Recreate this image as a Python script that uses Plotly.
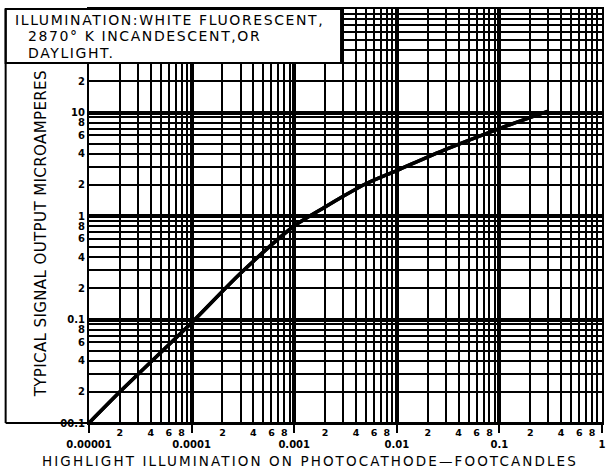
import plotly.graph_objects as go

# ---- data ----
illum_fc = [1e-5, 2e-5, 5e-5, 1e-4, 3e-4, 1e-3, 2e-3, 3e-3, 5e-3, 1e-2, 3e-2, 1e-1, 3e-1]
signal_ua = [0.01, 0.02, 0.048, 0.093, 0.28, 0.80, 1.22, 1.55, 2.05, 2.75, 4.4, 7.0, 10.3]

x_decades = [1e-5, 1e-4, 1e-3, 1e-2, 1e-1, 1]
x_decade_labels = ["0.00001", "0.0001", "0.001", "0.01", "0.1", "1"]
x_minor_mults = [2, 3, 4, 5, 6, 7, 8, 9]
x_minor_labels = ["2", "", "4", "", "6", "", "8", ""]

y_decades = [0.01, 0.1, 1, 10, 100]
y_decade_labels = ["00.1", "0.1", "1", "10", ""]
y_minor_labels = ["2", "", "4", "", "6", "", "8", ""]

box_lines = ["ILLUMINATION:WHITE FLUORESCENT,",
             "2870° K INCANDESCENT,OR",
             "DAYLIGHT."]
x_title = "HIGHLIGHT ILLUMINATION ON PHOTOCATHODE—FOOTCANDLES"
y_title = "TYPICAL SIGNAL OUTPUT MICROAMPERES"

FONT = "DejaVu Sans"

# ---- build tick arrays ----
xt_vals, xt_text = [], []
for d in x_decades[:-1]:
    for m, lab in zip(x_minor_mults, x_minor_labels):
        xt_vals.append(m * d)
        xt_text.append(lab)

yt_vals, yt_text = [], []
for d, dlab in zip(y_decades[:-1], y_decade_labels[:-1]):
    yt_vals.append(d)
    yt_text.append(dlab)
    for m, lab in zip(x_minor_mults, y_minor_labels):
        yt_vals.append(m * d)
        # above 20 the labels sit under the title box
        yt_text.append(lab if m * d <= 20 else "")

fig = go.Figure()
fig.add_trace(go.Scatter(x=illum_fc, y=signal_ua, mode="lines",
                         line=dict(color="black", width=3.5, shape="spline", smoothing=0.7),
                         hoverinfo="skip", showlegend=False))
fig.add_trace(go.Scatter(x=illum_fc, y=signal_ua, mode="lines",
                         line=dict(color="black", width=3.5, shape="spline", smoothing=0.7),
                         xaxis="x2", yaxis="y2",
                         hoverinfo="skip", showlegend=False))

fig.update_layout(
    width=608, height=468, autosize=False,
    margin=dict(l=89, r=2, t=9, b=45),
    paper_bgcolor="white", plot_bgcolor="white",
    font=dict(family=FONT, color="black"),
    xaxis=dict(type="log", range=[-5, 0], tickvals=xt_vals, ticktext=xt_text,
               ticks="", showgrid=True, gridcolor="black", gridwidth=2,
               showline=True, linecolor="black", linewidth=2, mirror=True,
               zeroline=False,
               tickfont=dict(family=FONT, size=9.5, color="black", weight="bold")),
    xaxis2=dict(type="log", range=[-5, 0], overlaying="x", anchor="y", side="bottom",
                tickvals=x_decades, ticktext=x_decade_labels,
                ticks="outside", ticklen=9, tickwidth=2, tickcolor="black",
                showgrid=True, gridcolor="black", gridwidth=4,
                showline=False, zeroline=False,
                tickfont=dict(family=FONT, size=10, color="black", weight="bold"),
                ticklabelstandoff=3),
    yaxis=dict(type="log", range=[-2, 2], tickvals=yt_vals, ticktext=yt_text,
               ticks="", showgrid=True, gridcolor="black", gridwidth=2,
               showline=True, linecolor="black", linewidth=2, mirror=True,
               zeroline=False,
               tickfont=dict(family=FONT, size=10, color="black", weight="bold")),
    yaxis2=dict(type="log", range=[-2, 2], overlaying="y", anchor="x", side="left",
                tickvals=y_decades, showticklabels=False, ticks="",
                showgrid=True, gridcolor="black", gridwidth=4,
                showline=False, zeroline=False),
)

# title box in the upper left
fig.add_shape(type="rect", xref="paper", yref="paper", x0=-0.1625, x1=0.4913,
              y0=0.8696, y1=1.0, fillcolor="white",
              line=dict(color="black", width=2), layer="above")
box_pos = [(-0.148, 0.9746), (-0.122, 0.9336), (-0.122, 0.8937)]
for txt, (bx, by) in zip(box_lines, box_pos):
    fig.add_annotation(xref="paper", yref="paper", x=bx, y=by,
                       xanchor="left", yanchor="middle",
                       text='<span style="letter-spacing:1.6px">' + txt + '</span>',
                       showarrow=False,
                       font=dict(family=FONT, size=14, color="black"))

# axis titles
fig.add_annotation(xref="paper", yref="paper", x=0.431, y=(423 - 460.5) / 414,
                   xanchor="center", yanchor="middle",
                   text='<span style="letter-spacing:2.1px">' + x_title + '</span>',
                   showarrow=False,
                   font=dict(family=FONT, size=13.5, color="black"))
fig.add_annotation(xref="paper", yref="paper", x=(41 - 89) / 517, y=(423 - 234) / 414,
                   xanchor="center", yanchor="middle",
                   text='<span style="letter-spacing:0.4px">' + y_title + '</span>',
                   textangle=-90,
                   showarrow=False, font=dict(family=FONT, size=15, color="black"))

# outer frame: left edge and extended bottom line
fig.add_shape(type="line", xref="paper", yref="paper", x0=-0.1625, x1=-0.1625,
              y0=0, y1=1, line=dict(color="black", width=2))
fig.add_shape(type="line", xref="paper", yref="paper", x0=-0.1625, x1=1,
              y0=0, y1=0, line=dict(color="black", width=2))

fig.write_html("out.html", post_script="document.body.style.margin='0';",
               config={"displayModeBar": False})
